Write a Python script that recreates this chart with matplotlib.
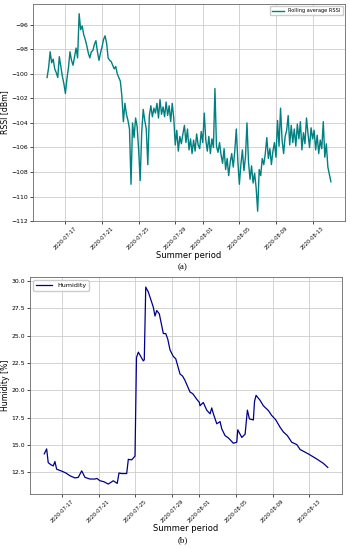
import matplotlib
matplotlib.use("Agg")
import matplotlib.pyplot as plt
import matplotlib.dates as mdates
import pandas as pd

START = pd.Timestamp("2020-07-15")

# rolling average RSSI, one row per day, readings every 4 hours
rssi_values = [
    -100.3, -99.5, -98.2, -99.1, -98.8, -99.6,
    -99.9, -100.3, -98.6, -99.4, -100.2, -100.8,
    -101.6, -100.4, -99.5, -98.2, -98.9, -99.3,
    -98.6, -97.9, -98.7, -95.1, -96.4, -96.1,
    -96.8, -97.2, -97.7, -98.3, -98.7, -98.2,
    -98.1, -97.6, -97.3, -98.2, -98.9, -98.3,
    -97.8, -97.2, -96.9, -97.5, -98.7, -98.9,
    -99.0, -99.3, -99.6, -99.4, -100.0, -100.3,
    -100.6, -101.8, -103.9, -102.4, -103.3, -103.8,
    -104.5, -109.0, -104.0, -105.2, -103.6, -104.3,
    -106.2, -108.7, -104.8, -102.9, -103.8, -104.5,
    -107.4, -103.4, -102.6, -103.5, -102.8, -103.2,
    -102.4, -103.6, -102.1, -103.3, -102.7, -103.5,
    -102.3, -103.4, -102.6, -103.9, -102.4, -103.6,
    -105.8, -104.6, -106.3, -105.1, -105.7, -104.9,
    -104.2, -105.6, -104.5, -106.2, -105.3, -106.5,
    -105.4, -106.3, -104.9, -105.8, -106.1, -104.7,
    -105.6, -103.2, -105.4, -106.3, -105.1, -106.5,
    -105.3, -106.0, -101.2, -105.9, -106.4, -105.6,
    -106.6, -107.3, -106.1, -107.8, -106.9, -108.3,
    -107.2, -106.5, -107.6, -106.3, -104.5, -107.1,
    -109.0, -107.4, -106.2, -107.9, -106.8, -104.0,
    -107.2, -108.6, -107.5, -108.9, -108.1, -109.3,
    -111.2, -107.8, -108.3, -106.9, -107.4, -106.5,
    -105.2, -106.9, -106.1, -107.4, -106.3, -105.6,
    -106.8, -103.8, -105.9, -102.8, -105.4, -106.5,
    -105.1, -104.6, -103.4, -105.8, -104.2, -105.6,
    -104.5, -105.9, -104.1, -105.3, -103.9, -106.2,
    -104.8, -105.7, -103.6, -104.9, -106.0, -104.4,
    -105.3, -104.6, -106.2, -105.0, -106.5, -105.4,
    -106.1, -103.9, -106.8, -105.7, -107.6, -108.2,
    -108.8,
]

# humidity: days since 2020-07-15 and value in %
hum_days = [
    0.07, 0.33, 0.50, 0.80, 1.05, 1.23, 1.42, 2.03, 2.43, 2.87,
    3.42, 3.78, 4.15, 4.51, 5.05, 5.60, 5.82, 6.15, 6.58, 7.05,
    7.60, 8.03, 8.22, 8.52, 9.06, 9.24, 9.61, 9.97, 10.13, 10.33,
    10.87, 10.98, 11.14, 11.42, 11.97, 12.15, 12.34, 12.62, 13.06, 13.32,
    13.54, 13.79, 14.15, 14.41, 14.88, 15.17, 15.43, 15.97, 16.27, 16.70,
    16.99, 17.06, 17.42, 17.79, 18.16, 18.34, 18.52, 18.89, 19.25, 19.43,
    19.79, 20.15, 20.70, 21.07, 21.18, 21.43, 21.62, 21.98, 22.23, 22.45,
    22.88, 23.01, 23.18, 23.61, 23.97, 24.52, 24.89, 25.07, 25.33, 25.80,
    26.16, 26.59, 27.07, 27.62, 27.98, 28.89, 29.80, 30.52, 31.00,
]
hum_values = [
    14.2, 14.65, 13.4, 13.2, 13.1, 13.5, 12.8, 12.6, 12.45, 12.2,
    12.0, 12.05, 12.65, 12.05, 11.9, 11.9, 11.95, 11.74, 11.65, 11.44,
    11.74, 11.5, 12.45, 12.4, 12.4, 13.7, 13.65, 14.0, 23.0, 23.5,
    22.7, 22.8, 29.45, 29.0, 27.6, 26.8, 27.3, 27.0, 25.2, 25.2,
    24.7, 23.7, 23.1, 22.9, 21.5, 21.3, 20.9, 19.85, 19.7, 19.2,
    18.9, 18.6, 18.9, 18.2, 17.86, 18.4, 17.86, 16.95, 17.15, 16.5,
    15.87, 15.66, 15.17, 15.26, 16.4, 16.0, 15.7, 16.0, 18.2, 17.4,
    17.3, 19.0, 19.55, 19.1, 18.6, 18.16, 17.7, 17.55, 17.3, 16.63,
    16.2, 15.87, 15.26, 15.05, 14.6, 14.19, 13.73, 13.33, 12.96,
]

rssi_times = pd.date_range(START, periods=len(rssi_values), freq="4h")
hum_times = START + pd.to_timedelta(hum_days, unit="D")

tick_days = [1, 5, 9, 13, 17, 21, 25, 29]


def style_axis(ax, ylabel):
    ax.xaxis.set_major_locator(mdates.DayLocator(bymonthday=tick_days))
    ax.xaxis.set_major_formatter(mdates.DateFormatter("%Y-%m-%d"))
    ax.tick_params(axis="x", labelsize=3.7, rotation=45, length=2.5, width=0.5, pad=1)
    ax.tick_params(axis="y", labelsize=4.4, length=2.5, width=0.5, pad=1.2)
    ax.grid(color="#cccccc", linewidth=0.6)
    ax.set_axisbelow(True)
    for spine in ax.spines.values():
        spine.set_color("#666666")
        spine.set_linewidth(0.6)
    ax.set_xlabel("Summer period", fontsize=6, labelpad=0)
    ax.set_ylabel(ylabel, fontsize=5.6, labelpad=1)


fig = plt.figure(figsize=(3.5, 5.5), dpi=100)

ax1 = fig.add_axes([0.094, 0.598, 0.892, 0.395])
ax1.plot(rssi_times, rssi_values, color="teal", linewidth=1.0, label="Rolling average RSSI")
style_axis(ax1, "RSSI [dBm]")
ax1.legend(loc="upper right", fontsize=3.6, handlelength=2.5, framealpha=1, edgecolor="#cccccc")

ax2 = fig.add_axes([0.086, 0.102, 0.891, 0.394])
ax2.plot(hum_times, hum_values, color="darkblue", linewidth=0.9, label="Humidity")
style_axis(ax2, "Humidity [%]")
ax2.legend(loc="upper left", fontsize=4.6, handlelength=2.5, framealpha=1, edgecolor="#cccccc")

fig.text(0.523, 0.515, "(a)", ha="center", va="center", fontsize=6.5, family="Liberation Serif")
fig.text(0.523, 0.018, "(b)", ha="center", va="center", fontsize=6.5, family="Liberation Serif")

fig.savefig("out.png", dpi=100, facecolor="white")
